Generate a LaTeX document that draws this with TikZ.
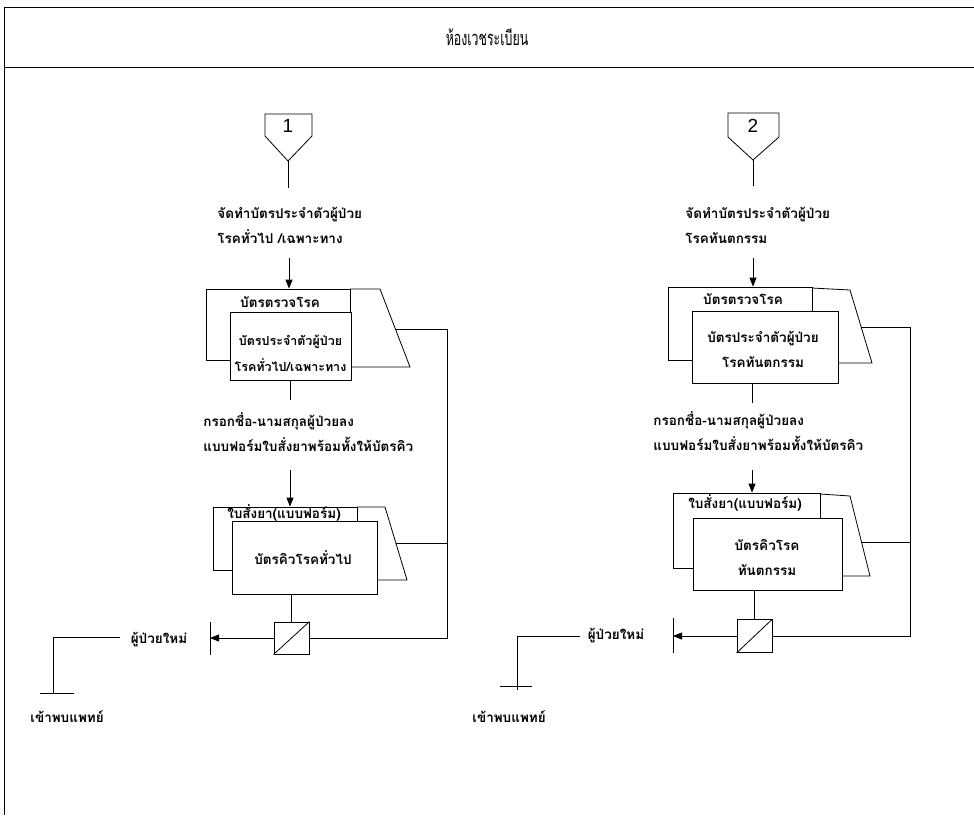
\documentclass[tikz,border=0pt]{standalone}
\usepackage{fontspec}
\setmainfont{Liberation Sans}
\newfontfamily\thai[Script=Thai]{Loma}
\newfontfamily\thaititle[Script=Thai,FakeStretch=0.62]{Loma}
\usetikzlibrary{arrows.meta}

\begin{document}
\begin{tikzpicture}[x=1pt,y=-1pt,line width=0.8pt,
  card/.style={draw,fill=white,inner sep=0pt},
  lbl/.style={font=\thai\bfseries\fontsize{13.5}{25}\selectfont,inner sep=0pt,align=left},
  cardtxt/.style={font=\thai\bfseries\fontsize{12.5}{26}\selectfont,inner sep=0pt,align=center},
  numtxt/.style={font=\fontsize{19}{19}\selectfont,inner sep=0pt},
  flow/.style={-{Triangle[length=9pt,width=7pt]}},
]
\useasboundingbox (0,0) rectangle (974,815);

% page frame and header band
\draw (4,815) -- (4,7) -- (974,7);
\draw (4,67) -- (974,67);
\node[inner sep=0pt,font=\thaititle\fontsize{20}{20}\selectfont] (title) at (487,37) {ห้องเวชระเบียน};

% ---------------- general / specialist clinic ----------------
\draw (265,114) -- (312,114) -- (312,136) -- (288,161) -- (265,136) -- cycle;
\node[numtxt] (n1) at (288,126) {1};
\coordinate (tip1) at (288,161);
\coordinate (end1) at (288,188);
\draw (tip1) -- (end1);
\node[lbl,anchor=west] (s1) at (217,225.5) {จัดทำบัตรประจำตัวผู้ป่วย\\โรคทั่วไป /เฉพาะทาง};
\coordinate (a1) at (289,258);

% patient card stack
\draw[fill=white] (350,289) -- (380,289) -- (410,367) -- (351,367);
\node[card,minimum width=144pt,minimum height=71pt] (b1) at (278,324.5) {};
\node[card,minimum width=121pt,minimum height=68pt] (f1) at (290.5,346) {};
\node[lbl] (b1t) at (280,302) {บัตรตรวจโรค};
\node[cardtxt] (f1t) at (290.5,353.5) {บัตรประจำตัวผู้ป่วย\\โรคทั่วไป/เฉพาะทาง};
\draw[flow] (a1) -- (a1 |- b1.north);

\coordinate (d1) at (290,400);
\draw (f1.south -| d1) -- (d1);
\node[lbl,anchor=west] (s2) at (203,432.5) {กรอกชื่อ-นามสกุลผู้ป่วยลง\\แบบฟอร์มใบสั่งยาพร้อมทั้งให้บัตรคิว};
\coordinate (a2) at (290,470);

% prescription / queue card stack
\draw[fill=white] (357,507) -- (385,507) -- (407,580) -- (377,580);
\node[card,minimum width=144pt,minimum height=63pt] (b2) at (285,538.5) {};
\node[card,minimum width=145pt,minimum height=73pt] (f2) at (304.5,557.5) {};
\node[lbl] (b2t) at (284,513) {ใบสั่งยา(แบบฟอร์ม)};
\node[lbl] (f2t) at (303,558) {บัตรคิวโรคทั่วไป};
\draw[flow] (a2) -- (a2 |- b2.north);

% manual operation
\node[card,minimum width=35pt,minimum height=32pt] (c1) at (291.5,638) {};
\draw (c1.south west) -- (c1.north east);
\draw (f2.south -| c1) -- (c1.north);

% returns from the stacks
\coordinate (r1) at (447,638);
\draw (395.4,329) -| (r1) -- (c1.east);
\draw (396,543) -- (447,543);

% new patient
\coordinate (x1) at (210,638);
\draw (210,622) -- (210,655);
\draw[flow] (c1.west) -- (x1);
\node[lbl] (np1) at (159,640) {ผู้ป่วยใหม่};
\coordinate (g1) at (53,693);
\draw (120,637) -| (g1);
\draw (40,693) -- (74,693);
\node[lbl,anchor=west] (doc1) at (30,717) {เข้าพบแพทย์};

% ---------------- dental clinic ----------------
\draw (728,113) -- (779,113) -- (779,137) -- (753,160) -- (728,137) -- cycle;
\node[numtxt] (n2) at (753,126) {2};
\coordinate (tip2) at (753,160);
\coordinate (end2) at (753,186);
\draw (tip2) -- (end2);
\node[lbl,anchor=west] (s3) at (685,225.5) {จัดทำบัตรประจำตัวผู้ป่วย\\โรคทันตกรรม};
\coordinate (a3) at (753,258);

\draw[fill=white] (812,288) -- (850,290) -- (872,363) -- (838,363);
\node[card,minimum width=144pt,minimum height=73pt] (b3) at (740,323.5) {};
\node[card,minimum width=146pt,minimum height=72pt] (f3) at (765,347) {};
\node[lbl] (b3t) at (743,299) {บัตรตรวจโรค};
\node[lbl,align=center] (f3t) at (763,349.5) {บัตรประจำตัวผู้ป่วย\\โรคทันตกรรม};
\draw[flow] (a3) -- (a3 |- b3.north);

\coordinate (d3) at (752,403);
\draw (f3.south -| d3) -- (d3);
\node[lbl,anchor=west] (s4) at (653,431.5) {กรอกชื่อ-นามสกุลผู้ป่วยลง\\แบบฟอร์มใบสั่งยาพร้อมทั้งให้บัตรคิว};
\coordinate (a4) at (752,470);

\draw[fill=white] (820,494) -- (850,496) -- (870,576) -- (842,576);
\node[card,minimum width=147pt,minimum height=75pt] (b4) at (746.5,530.5) {};
\node[card,minimum width=149pt,minimum height=72pt] (f4) at (767.5,554) {};
\node[lbl] (b4t) at (745,503) {ใบสั่งยา(แบบฟอร์ม)};
\node[lbl,align=center] (f4t) at (767,557.5) {บัตรคิวโรค\\ทันตกรรม};
\draw[flow] (a4) -- (a4 |- b4.north);

\node[card,minimum width=35pt,minimum height=33pt] (c2) at (754.5,636) {};
\draw (c2.south west) -- (c2.north east);
\draw (f4.south -| c2) -- (c2.north);

\coordinate (r2) at (910,636);
\draw (861,327) -| (r2) -- (c2.east);
\draw (861.5,542) -- (910,542);

\coordinate (x2) at (673,636);
\draw (673,618) -- (673,653);
\draw[flow] (c2.west) -- (x2);
\node[lbl] (np2) at (616,636) {ผู้ป่วยใหม่};
\coordinate (g2) at (517,690);
\draw (580,636) -| (g2);
\draw (500,686) -- (532,686);
\node[lbl,anchor=west] (doc2) at (472,717) {เข้าพบแพทย์};

\end{tikzpicture}
\end{document}
